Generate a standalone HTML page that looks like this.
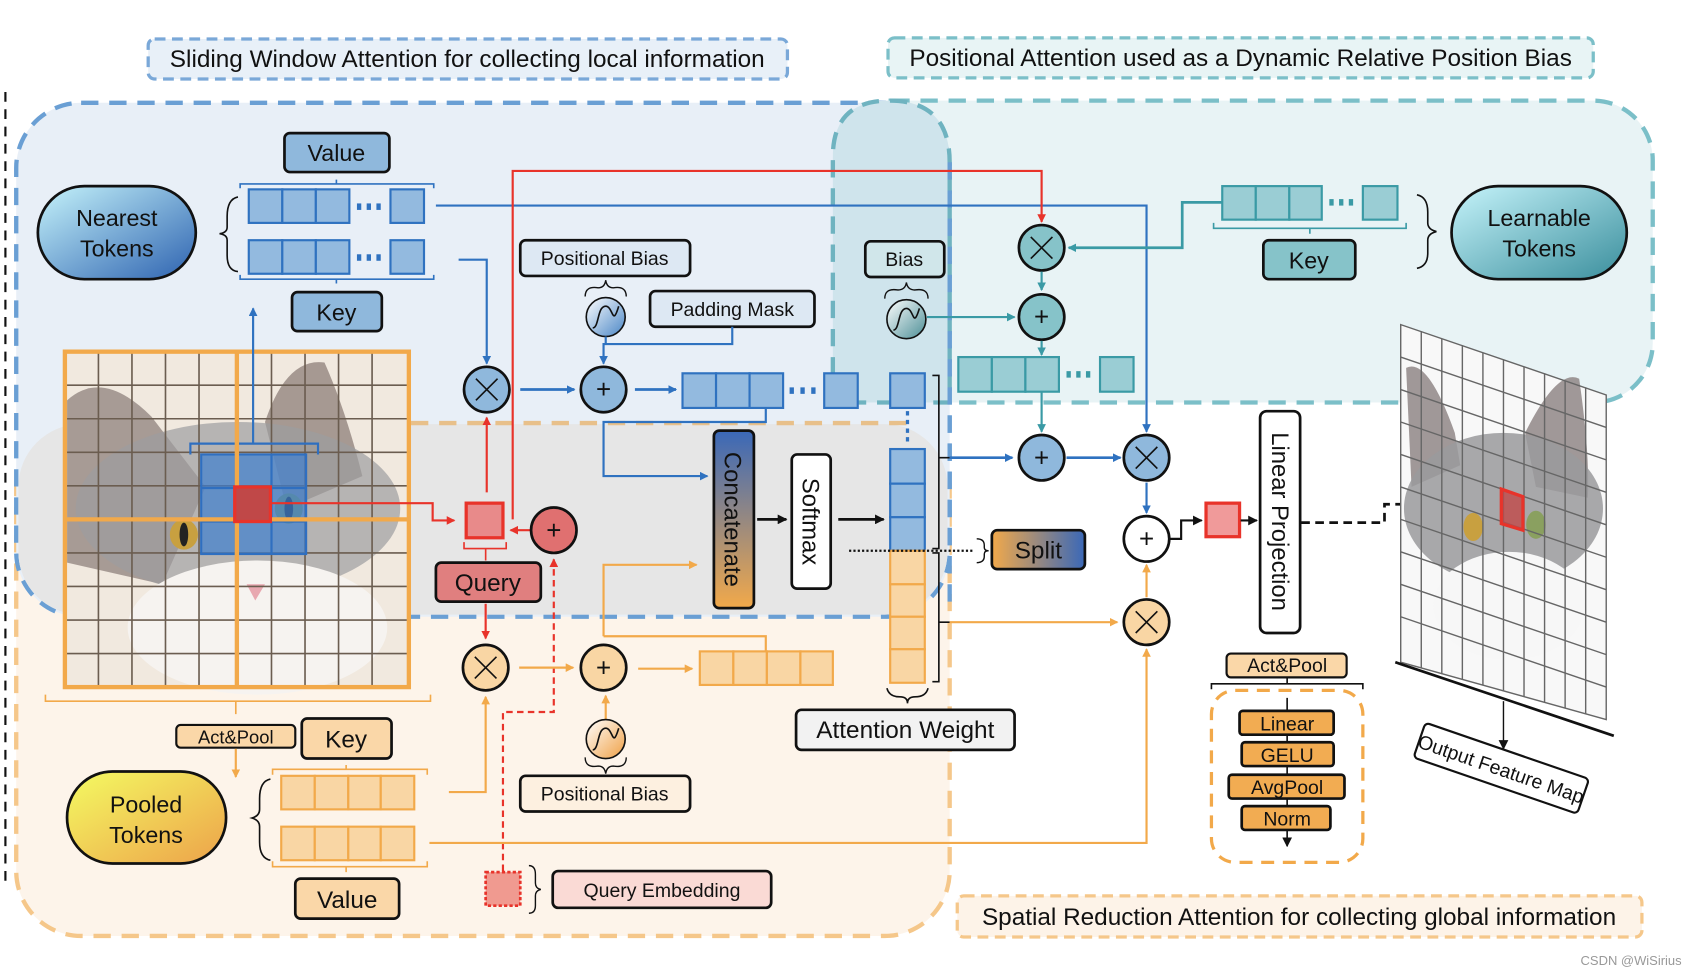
<!DOCTYPE html>
<html><head><meta charset="utf-8"><style>
html,body{margin:0;padding:0;background:#fff;}
svg{display:block;}
text{font-family:"Liberation Sans",Arial,sans-serif;fill:#111;}
</style></head><body>
<svg width="1696" height="976" viewBox="0 0 1568 902" preserveAspectRatio="none" xmlns="http://www.w3.org/2000/svg">
<defs>
<marker id="ab" markerWidth="8" markerHeight="8" refX="7" refY="4" orient="auto" markerUnits="userSpaceOnUse"><path d="M0,0 L8,4 L0,8 z" fill="#2f72c0"/></marker>
<marker id="ar" markerWidth="8" markerHeight="8" refX="7" refY="4" orient="auto" markerUnits="userSpaceOnUse"><path d="M0,0 L8,4 L0,8 z" fill="#e8332a"/></marker>
<marker id="ao" markerWidth="8" markerHeight="8" refX="7" refY="4" orient="auto" markerUnits="userSpaceOnUse"><path d="M0,0 L8,4 L0,8 z" fill="#f2a94a"/></marker>
<marker id="at" markerWidth="8" markerHeight="8" refX="7" refY="4" orient="auto" markerUnits="userSpaceOnUse"><path d="M0,0 L8,4 L0,8 z" fill="#3a9aa5"/></marker>
<marker id="ak" markerWidth="9" markerHeight="9" refX="8" refY="4.5" orient="auto" markerUnits="userSpaceOnUse"><path d="M0,0 L9,4.5 L0,9 z" fill="#111"/></marker>
<linearGradient id="gNear" x1="0" y1="0" x2="1" y2="1"><stop offset="0" stop-color="#c6f4fb"/><stop offset="1" stop-color="#2d62b0"/></linearGradient>
<linearGradient id="gLearn" x1="0" y1="0" x2="1" y2="1"><stop offset="0" stop-color="#c6f4fb"/><stop offset="1" stop-color="#3a8e9c"/></linearGradient>
<linearGradient id="gPool" x1="0" y1="0" x2="1" y2="1"><stop offset="0" stop-color="#f4fb62"/><stop offset="1" stop-color="#eda24a"/></linearGradient>
<linearGradient id="gConc" x1="0" y1="0" x2="0" y2="1"><stop offset="0" stop-color="#3a68b8"/><stop offset="1" stop-color="#f2a94a"/></linearGradient>
<linearGradient id="gSplit" x1="0" y1="0" x2="1" y2="0"><stop offset="0" stop-color="#f2a94a"/><stop offset="1" stop-color="#3a68b8"/></linearGradient>
<linearGradient id="gSigB" x1="0" y1="0" x2="1" y2="1"><stop offset="0" stop-color="#fff"/><stop offset="1" stop-color="#4a86c6"/></linearGradient>
<linearGradient id="gSigT" x1="0" y1="0" x2="1" y2="1"><stop offset="0" stop-color="#fff"/><stop offset="1" stop-color="#4c8e96"/></linearGradient>
<linearGradient id="gSigO" x1="0" y1="0" x2="1" y2="1"><stop offset="0" stop-color="#fff"/><stop offset="1" stop-color="#f0a045"/></linearGradient>
</defs>

<line x1="5" y1="85" x2="5" y2="815" stroke="#111" stroke-width="2" stroke-dasharray="9,7"/>

<rect x="15" y="390" width="863" height="475" rx="60" fill="#fdf4ea" stroke="#f5c78a" stroke-width="4" stroke-dasharray="16,10"/>
<rect x="770" y="93" width="758" height="279" rx="55" fill="#e8f3f5" stroke="#7bbfc8" stroke-width="4" stroke-dasharray="16,10"/>
<rect x="15" y="95" width="863" height="475" rx="60" fill="#e8eff7" stroke="#6a9fd4" stroke-width="4" stroke-dasharray="16,10"/>
<rect x="17" y="392" width="859" height="176" rx="58" fill="#e6e6e6"/>
<line x1="380" y1="391" x2="840" y2="391" stroke="#e8c08a" stroke-width="4" stroke-dasharray="16,10"/>
<path d="M770,372 L770,145 Q770,93 822,93 Q878,93 878,150 L878,372 z" fill="#cfe4ec" stroke="#6fb3c0" stroke-width="4" stroke-dasharray="16,10"/>
<line x1="878" y1="150" x2="878" y2="560" stroke="#6a9fd4" stroke-width="4" stroke-dasharray="16,10"/>

<rect x="137" y="36" width="591" height="37" rx="6" fill="#e8f0f8" stroke="#7aa8d8" stroke-width="3" stroke-dasharray="10,6"/>
<text x="432" y="62" font-size="22.5" text-anchor="middle">Sliding Window Attention for collecting local information</text>
<rect x="821" y="35" width="652" height="37" rx="6" fill="#e8f4f5" stroke="#7bbfc8" stroke-width="3" stroke-dasharray="10,6"/>
<text x="1147" y="61" font-size="22.5" text-anchor="middle">Positional Attention used as a Dynamic Relative Position Bias</text>
<rect x="885" y="828" width="633" height="38" rx="6" fill="#fdf3e8" stroke="#f5c78a" stroke-width="3" stroke-dasharray="10,6"/>
<text x="1201" y="855" font-size="22.5" text-anchor="middle">Spatial Reduction Attention for collecting global information</text>

<rect x="35" y="172" width="146" height="86" rx="43" fill="url(#gNear)" stroke="#111" stroke-width="2.5"/>
<text x="108" y="209" font-size="21.5" text-anchor="middle">Nearest</text>
<text x="108" y="237" font-size="21.5" text-anchor="middle">Tokens</text>
<path d="M220,182 Q210,184 210,200 L210,210 Q210,215 203,216 Q210,217 210,222 L210,236 Q210,250 220,251" fill="none" stroke="#111" stroke-width="1.5"/>

<rect x="263" y="123" width="97" height="36" rx="5" fill="#8fb8dc" stroke="#111" stroke-width="2.5"/>
<text x="311" y="149" font-size="21.5" text-anchor="middle">Value</text>
<path d="M222,174 L222,170 L401,170 L401,174 M311,170 L311,166" fill="none" stroke="#2f72c0" stroke-width="1.5"/>
<g fill="#93badf" stroke="#2f72c0" stroke-width="2">
<rect x="230" y="175" width="31" height="31"/><rect x="261" y="175" width="31" height="31"/><rect x="292" y="175" width="31" height="31"/><rect x="361" y="175" width="31" height="31"/>
<rect x="230" y="222" width="31" height="31"/><rect x="261" y="222" width="31" height="31"/><rect x="292" y="222" width="31" height="31"/><rect x="361" y="222" width="31" height="31"/>
</g>
<g fill="#2f72c0"><rect x="330" y="188" width="4" height="6"/><rect x="339" y="188" width="4" height="6"/><rect x="348" y="188" width="4" height="6"/><rect x="330" y="235" width="4" height="6"/><rect x="339" y="235" width="4" height="6"/><rect x="348" y="235" width="4" height="6"/></g>
<path d="M222,254 L222,258 L401,258 L401,254 M311,258 L311,262" fill="none" stroke="#2f72c0" stroke-width="1.5"/>
<rect x="270" y="270" width="83" height="36" rx="5" fill="#8fb8dc" stroke="#111" stroke-width="2.5"/>
<text x="311" y="296" font-size="21.5" text-anchor="middle">Key</text>

<!-- cat image -->
<rect x="60" y="325" width="318" height="310" fill="#f1e9df"/>
<path d="M62,370 Q95,340 140,385 L190,450 L150,540 L62,520 z" fill="#8d807c" opacity="0.75"/>
<path d="M245,390 Q265,330 300,335 Q320,380 335,440 L265,470 z" fill="#8c7e78" opacity="0.75"/>
<ellipse cx="220" cy="470" rx="150" ry="80" fill="#9c9c9f" opacity="0.7"/>
<ellipse cx="238" cy="580" rx="120" ry="62" fill="#f6f3f0"/>
<ellipse cx="170" cy="494" rx="13" ry="14" fill="#c8a040"/><ellipse cx="170" cy="494" rx="4" ry="11" fill="#222"/>
<ellipse cx="267" cy="470" rx="13" ry="14" fill="#8aa060"/><ellipse cx="267" cy="470" rx="4" ry="11" fill="#222"/>
<path d="M228,540 L245,540 L236,555 z" fill="#e8a8b0"/>
<g stroke="#6b5d50" stroke-width="1.5" fill="none">
<path d="M91,325V635M122,325V635M153,325V635M184,325V635M251,325V635M282,325V635M313,325V635M344,325V635"/>
<path d="M60,356H378M60,387H378M60,418H378M60,449H378M60,511H378M60,542H378M60,573H378M60,604H378"/>
</g>
<rect x="186" y="420" width="97" height="92" fill="#3f7fcf" opacity="0.7"/>
<g stroke="#2f6fc0" stroke-width="2" fill="none"><rect x="186" y="420" width="97" height="92"/><path d="M218,420V512M251,420V512M186,451H283M186,482H283"/><path d="M176,420 V410 H294 V420"/></g>
<g stroke="#f2a94a" stroke-width="4" fill="none"><rect x="60" y="325" width="318" height="310"/><path d="M219,325V635M60,480H378"/></g>
<rect x="217" y="450" width="33" height="32" fill="#c04848" stroke="#e8332a" stroke-width="3"/>
<path d="M42,642 L42,648 L398,648 L398,642 M218,648 L218,660" fill="none" stroke="#f2a94a" stroke-width="1.5"/>

<line x1="234" y1="410" x2="234" y2="285" stroke="#2f72c0" stroke-width="2" marker-end="url(#ab)"/>
<polyline points="403,190 1060,190 1060,399" fill="none" stroke="#2f72c0" stroke-width="2" marker-end="url(#ab)"/>
<polyline points="424,240 450,240 450,336" fill="none" stroke="#2f72c0" stroke-width="2" marker-end="url(#ab)"/>

<polyline points="474,480 474,158 963,158 963,205" fill="none" stroke="#e8332a" stroke-width="2" marker-end="url(#ar)"/>
<polyline points="250,465 400,465 400,481 420,481" fill="none" stroke="#e8332a" stroke-width="2" marker-end="url(#ar)"/>
<line x1="450" y1="455" x2="450" y2="386" stroke="#e8332a" stroke-width="2" marker-end="url(#ar)"/>
<line x1="491" y1="490" x2="472" y2="490" stroke="#e8332a" stroke-width="2" marker-end="url(#ar)"/>
<polyline points="465,805 465,658 512,658 512,517" fill="none" stroke="#e8332a" stroke-width="2" stroke-dasharray="6,4" marker-end="url(#ar)"/>
<line x1="449" y1="558" x2="449" y2="590" stroke="#e8332a" stroke-width="2" marker-end="url(#ar)"/>

<circle cx="450" cy="360" r="21" fill="#8fb8dc" stroke="#111" stroke-width="2.5"/>
<path d="M440,350 L460,370 M460,350 L440,370" stroke="#111" stroke-width="1.5"/>
<line x1="481" y1="360" x2="531" y2="360" stroke="#2f72c0" stroke-width="2.5" marker-end="url(#ab)"/>
<circle cx="558" cy="360" r="21" fill="#8fb8dc" stroke="#111" stroke-width="2.5"/>
<text x="558" y="368" font-size="24" text-anchor="middle">+</text>
<line x1="587" y1="360" x2="625" y2="360" stroke="#2f72c0" stroke-width="2.5" marker-end="url(#ab)"/>
<g fill="#93badf" stroke="#2f72c0" stroke-width="2"><rect x="631" y="345" width="31" height="32"/><rect x="662" y="345" width="31" height="32"/><rect x="693" y="345" width="31" height="32"/><rect x="762" y="345" width="31" height="32"/></g>
<g fill="#2f72c0"><rect x="730" y="358" width="4" height="6"/><rect x="740" y="358" width="4" height="6"/><rect x="750" y="358" width="4" height="6"/></g>

<rect x="481" y="222" width="157" height="33" rx="5" fill="#dde8f3" stroke="#111" stroke-width="2.5"/>
<text x="559" y="245" font-size="18" text-anchor="middle">Positional Bias</text>
<path d="M541,274 Q541,264 553,266 Q559,266 560,259 Q561,266 567,266 Q579,264 579,274" fill="none" stroke="#111" stroke-width="1.3"/>
<circle cx="560" cy="293" r="18" fill="url(#gSigB)" stroke="#111" stroke-width="1.5"/>
<path d="M548,303 C554,303 552,283 560,283 C567,283 566,303 572,283" fill="none" stroke="#111" stroke-width="1.5"/>
<rect x="601" y="269" width="152" height="33" rx="5" fill="#dde8f3" stroke="#111" stroke-width="2.5"/>
<text x="677" y="292" font-size="18" text-anchor="middle">Padding Mask</text>
<polyline points="677,302 677,318 558,318 558,336" fill="none" stroke="#2f72c0" stroke-width="2" marker-end="url(#ab)"/>
<line x1="560" y1="311" x2="560" y2="318" stroke="#2f72c0" stroke-width="2"/>
<polyline points="708,377 708,390 558,390 558,440 654,440" fill="none" stroke="#2f72c0" stroke-width="2" marker-end="url(#ab)"/>

<rect x="660" y="398" width="37" height="164" rx="5" fill="url(#gConc)" stroke="#111" stroke-width="2.5"/>
<text transform="translate(670,480) rotate(90)" font-size="22" text-anchor="middle">Concatenate</text>
<line x1="700" y1="480" x2="727" y2="480" stroke="#111" stroke-width="2.5" marker-end="url(#ak)"/>
<rect x="732" y="420" width="36" height="124" rx="5" fill="#fff" stroke="#111" stroke-width="2.5"/>
<text transform="translate(742,482) rotate(90)" font-size="22" text-anchor="middle">Softmax</text>
<line x1="775" y1="480" x2="817" y2="480" stroke="#111" stroke-width="2.5" marker-end="url(#ak)"/>
<polyline points="558,588 558,522 644,522" fill="none" stroke="#f2a94a" stroke-width="2" marker-end="url(#ao)"/>
<polyline points="708,602 708,588 558,588" fill="none" stroke="#f2a94a" stroke-width="2"/>

<g fill="#93badf" stroke="#2f72c0" stroke-width="2"><rect x="823" y="345" width="32" height="32"/><rect x="823" y="415" width="32" height="32"/><rect x="823" y="447" width="32" height="31"/><rect x="823" y="478" width="32" height="31"/></g>
<line x1="839" y1="380" x2="839" y2="410" stroke="#2f72c0" stroke-width="3" stroke-dasharray="4,4"/>
<g fill="#f9d6a4" stroke="#f2a94a" stroke-width="2"><rect x="823" y="509" width="32" height="31"/><rect x="823" y="540" width="32" height="30"/><rect x="823" y="570" width="32" height="30"/><rect x="823" y="600" width="32" height="31"/></g>
<path d="M862,347 H868 V507 H862 M868,423 H878 M862,511 H868 V630 H862 M868,575 H878" fill="none" stroke="#111" stroke-width="1.5"/>
<path d="M820,636 Q822,644 832,644 Q839,644 839,650 Q839,644 846,644 Q856,644 858,636" fill="none" stroke="#111" stroke-width="1.5"/>
<rect x="736" y="656" width="202" height="37" rx="5" fill="#f2f2f2" stroke="#111" stroke-width="2.5"/>
<text x="837" y="682" font-size="22.5" text-anchor="middle">Attention Weight</text>
<line x1="785" y1="509" x2="900" y2="509" stroke="#111" stroke-width="2" stroke-dasharray="2,2"/>
<path d="M903,498 Q910,498 910,504 L910,506 Q910,509 914,509 Q910,509 910,512 L910,514 Q910,520 903,520" fill="none" stroke="#111" stroke-width="1.3"/>
<rect x="917" y="490" width="86" height="36" rx="5" fill="url(#gSplit)" stroke="#111" stroke-width="2.5"/>
<text x="960" y="516" font-size="22.5" text-anchor="middle">Split</text>
<line x1="878" y1="423" x2="936" y2="423" stroke="#2f72c0" stroke-width="2.5" marker-end="url(#ab)"/>
<line x1="878" y1="575" x2="1033" y2="575" stroke="#f2a94a" stroke-width="2" marker-end="url(#ao)"/>

<rect x="431" y="465" width="34" height="32" fill="#e88a8a" stroke="#e8332a" stroke-width="3"/>
<path d="M429,501 V507 H468 V501 M449,507 V518" fill="none" stroke="#e8332a" stroke-width="1.5"/>
<circle cx="512" cy="490" r="21" fill="#e07070" stroke="#111" stroke-width="2.5"/>
<text x="512" y="498" font-size="24" text-anchor="middle">+</text>
<rect x="403" y="520" width="97" height="36" rx="5" fill="#e07f7f" stroke="#111" stroke-width="2.5"/>
<text x="451" y="546" font-size="22.5" text-anchor="middle">Query</text>

<circle cx="449" cy="617" r="21" fill="#f9d6a4" stroke="#111" stroke-width="2.5"/>
<path d="M439,607 L459,627 M459,607 L439,627" stroke="#111" stroke-width="1.5"/>
<line x1="480" y1="617" x2="530" y2="617" stroke="#f2a94a" stroke-width="2" marker-end="url(#ao)"/>
<circle cx="558" cy="617" r="21" fill="#f9d6a4" stroke="#111" stroke-width="2.5"/>
<text x="558" y="625" font-size="24" text-anchor="middle">+</text>
<line x1="590" y1="618" x2="640" y2="618" stroke="#f2a94a" stroke-width="2" marker-end="url(#ao)"/>
<g fill="#f9d6a4" stroke="#f2a94a" stroke-width="2"><rect x="647" y="602" width="31" height="31"/><rect x="678" y="602" width="31" height="31"/><rect x="709" y="602" width="31" height="31"/><rect x="740" y="602" width="30" height="31"/></g>
<line x1="560" y1="665" x2="560" y2="643" stroke="#f2a94a" stroke-width="2" marker-end="url(#ao)"/>
<circle cx="560" cy="683" r="18" fill="url(#gSigO)" stroke="#111" stroke-width="1.5"/>
<path d="M548,693 C554,693 552,673 560,673 C567,673 566,693 572,673" fill="none" stroke="#111" stroke-width="1.5"/>
<path d="M541,700 Q541,710 553,708 Q559,708 560,715 Q561,708 567,708 Q579,710 579,700" fill="none" stroke="#111" stroke-width="1.3"/>
<rect x="481" y="717" width="157" height="33" rx="5" fill="#fdf0e0" stroke="#111" stroke-width="2.5"/>
<text x="559" y="740" font-size="18" text-anchor="middle">Positional Bias</text>

<rect x="163" y="670" width="110" height="21" rx="4" fill="#fad7a8" stroke="#111" stroke-width="2"/>
<text x="218" y="687" font-size="17" text-anchor="middle">Act&amp;Pool</text>
<rect x="279" y="664" width="83" height="37" rx="5" fill="#fad7a8" stroke="#111" stroke-width="2.5"/>
<text x="320" y="691" font-size="22.5" text-anchor="middle">Key</text>
<line x1="218" y1="692" x2="218" y2="718" stroke="#f2a94a" stroke-width="2" marker-end="url(#ao)"/>
<rect x="62" y="713" width="147" height="85" rx="42" fill="url(#gPool)" stroke="#111" stroke-width="2.5"/>
<text x="135" y="751" font-size="21.5" text-anchor="middle">Pooled</text>
<text x="135" y="779" font-size="21.5" text-anchor="middle">Tokens</text>
<path d="M250,720 Q240,722 240,738 L240,748 Q240,754 233,756 Q240,758 240,764 L240,778 Q240,793 250,795" fill="none" stroke="#111" stroke-width="1.5"/>
<path d="M252,716 V711 H395 V716 M320,711 V707" fill="none" stroke="#f2a94a" stroke-width="1.5"/>
<g fill="#f9d6a4" stroke="#f2a94a" stroke-width="2"><rect x="260" y="717" width="31" height="31"/><rect x="291" y="717" width="31" height="31"/><rect x="322" y="717" width="30" height="31"/><rect x="352" y="717" width="31" height="31"/>
<rect x="260" y="764" width="31" height="31"/><rect x="291" y="764" width="31" height="31"/><rect x="322" y="764" width="30" height="31"/><rect x="352" y="764" width="31" height="31"/></g>
<path d="M252,796 V801 H395 V796 M320,801 V806" fill="none" stroke="#f2a94a" stroke-width="1.5"/>
<rect x="273" y="812" width="96" height="37" rx="5" fill="#fad7a8" stroke="#111" stroke-width="2.5"/>
<text x="321" y="839" font-size="22.5" text-anchor="middle">Value</text>
<polyline points="415,732 449,732 449,644" fill="none" stroke="#f2a94a" stroke-width="2" marker-end="url(#ao)"/>
<polyline points="397,779 1060,779 1060,600" fill="none" stroke="#f2a94a" stroke-width="2" marker-end="url(#ao)"/>

<rect x="449" y="806" width="32" height="31" fill="#f09a90" stroke="#e8332a" stroke-width="2.5" stroke-dasharray="3,2"/>
<path d="M489,800 Q495,800 495,808 L495,816 Q495,821 500,822 Q495,823 495,828 L495,837 Q495,844 489,844" fill="none" stroke="#111" stroke-width="1.3"/>
<rect x="511" y="805" width="202" height="34" rx="5" fill="#fadad5" stroke="#111" stroke-width="2.5"/>
<text x="612" y="829" font-size="18" text-anchor="middle">Query Embedding</text>

<circle cx="963" cy="229" r="21" fill="#86c3c9" stroke="#111" stroke-width="2.5"/>
<path d="M953,219 L973,239 M973,219 L953,239" stroke="#111" stroke-width="1.5"/>
<line x1="963" y1="251" x2="963" y2="268" stroke="#3a9aa5" stroke-width="2" marker-end="url(#at)"/>
<circle cx="963" cy="293" r="21" fill="#86c3c9" stroke="#111" stroke-width="2.5"/>
<text x="963" y="301" font-size="24" text-anchor="middle">+</text>
<line x1="963" y1="315" x2="963" y2="328" stroke="#3a9aa5" stroke-width="2" marker-end="url(#at)"/>
<g fill="#9acdd4" stroke="#3a9aa5" stroke-width="2"><rect x="886" y="330" width="31" height="32"/><rect x="917" y="330" width="31" height="32"/><rect x="948" y="330" width="31" height="32"/><rect x="1017" y="330" width="31" height="32"/></g>
<g fill="#3a9aa5"><rect x="986" y="343" width="4" height="6"/><rect x="995" y="343" width="4" height="6"/><rect x="1004" y="343" width="4" height="6"/></g>
<line x1="963" y1="362" x2="963" y2="399" stroke="#3a9aa5" stroke-width="2" marker-end="url(#at)"/>
<rect x="800" y="223" width="73" height="33" rx="5" fill="#d0e6ea" stroke="#111" stroke-width="2.5"/>
<text x="836" y="246" font-size="18" text-anchor="middle">Bias</text>
<path d="M818,276 Q818,266 830,268 Q837,268 838,261 Q839,268 846,268 Q858,266 858,276" fill="none" stroke="#111" stroke-width="1.3"/>
<circle cx="838" cy="295" r="18" fill="url(#gSigT)" stroke="#111" stroke-width="1.5"/>
<path d="M826,305 C832,305 830,285 838,285 C845,285 844,305 850,285" fill="none" stroke="#111" stroke-width="1.5"/>
<line x1="857" y1="293" x2="938" y2="293" stroke="#3a9aa5" stroke-width="2" marker-end="url(#at)"/>
<g fill="#9acdd4" stroke="#3a9aa5" stroke-width="2"><rect x="1130" y="172" width="31" height="31"/><rect x="1161" y="172" width="31" height="31"/><rect x="1192" y="172" width="30" height="31"/><rect x="1260" y="172" width="32" height="31"/></g>
<g fill="#3a9aa5"><rect x="1229" y="184" width="4" height="6"/><rect x="1238" y="184" width="4" height="6"/><rect x="1247" y="184" width="4" height="6"/></g>
<polyline points="1130,187 1093,187 1093,229 988,229" fill="none" stroke="#3a9aa5" stroke-width="2.5" marker-end="url(#at)"/>
<path d="M1122,206 V211 H1300 V206 M1211,211 V216" fill="none" stroke="#3a9aa5" stroke-width="1.5"/>
<rect x="1168" y="222" width="85" height="36" rx="5" fill="#86c3c9" stroke="#111" stroke-width="2.5"/>
<text x="1210" y="248" font-size="21.5" text-anchor="middle">Key</text>
<path d="M1310,180 Q1320,182 1320,196 L1320,206 Q1320,212 1328,214 Q1320,216 1320,222 L1320,234 Q1320,246 1310,248" fill="none" stroke="#111" stroke-width="1.5"/>
<rect x="1342" y="172" width="162" height="86" rx="43" fill="url(#gLearn)" stroke="#111" stroke-width="2.5"/>
<text x="1423" y="209" font-size="21.5" text-anchor="middle">Learnable</text>
<text x="1423" y="237" font-size="21.5" text-anchor="middle">Tokens</text>

<circle cx="963" cy="423" r="21" fill="#8fb8dc" stroke="#111" stroke-width="2.5"/>
<text x="963" y="431" font-size="24" text-anchor="middle">+</text>
<line x1="986" y1="423" x2="1036" y2="423" stroke="#2f72c0" stroke-width="2.5" marker-end="url(#ab)"/>
<circle cx="1060" cy="423" r="21" fill="#8fb8dc" stroke="#111" stroke-width="2.5"/>
<path d="M1050,413 L1070,433 M1070,413 L1050,433" stroke="#111" stroke-width="1.5"/>
<line x1="1060" y1="446" x2="1060" y2="474" stroke="#2f72c0" stroke-width="2" marker-end="url(#ab)"/>
<circle cx="1060" cy="498" r="21" fill="#fff" stroke="#111" stroke-width="2.5"/>
<text x="1060" y="506" font-size="24" text-anchor="middle">+</text>
<line x1="1060" y1="552" x2="1060" y2="522" stroke="#f2a94a" stroke-width="2" marker-end="url(#ao)"/>
<circle cx="1060" cy="575" r="21" fill="#f9d6a4" stroke="#111" stroke-width="2.5"/>
<path d="M1050,565 L1070,585 M1070,565 L1050,585" stroke="#111" stroke-width="1.5"/>
<polyline points="1082,498 1092,498 1092,481 1111,481" fill="none" stroke="#111" stroke-width="2" marker-end="url(#ak)"/>
<rect x="1115" y="465" width="31" height="31" fill="#f09a9a" stroke="#e8332a" stroke-width="3"/>
<line x1="1147" y1="481" x2="1162" y2="481" stroke="#111" stroke-width="2" marker-end="url(#ak)"/>
<rect x="1165" y="380" width="37" height="205" rx="6" fill="#fff" stroke="#111" stroke-width="2.5"/>
<text transform="translate(1176,482) rotate(90)" font-size="22" text-anchor="middle">Linear Projection</text>
<polyline points="1203,483 1280,483 1280,466 1378,466" fill="none" stroke="#111" stroke-width="2.5" stroke-dasharray="8,5" marker-end="url(#ak)"/>

<rect x="1134" y="604" width="111" height="22" rx="4" fill="#fad7a8" stroke="#111" stroke-width="2"/>
<text x="1190" y="621" font-size="18" text-anchor="middle">Act&amp;Pool</text>
<path d="M1120,637 V632 H1260 V637 M1190,632 V627" fill="none" stroke="#111" stroke-width="1.5"/>
<rect x="1120" y="638" width="140" height="159" rx="22" fill="none" stroke="#f2a94a" stroke-width="3" stroke-dasharray="12,8"/>
<line x1="1190" y1="645" x2="1190" y2="782" stroke="#111" stroke-width="1.5" marker-end="url(#ak)"/>
<g fill="#f2ac52" stroke="#111" stroke-width="2.5">
<rect x="1146" y="657" width="87" height="22" rx="3"/><rect x="1148" y="686" width="85" height="22" rx="3"/><rect x="1136" y="716" width="107" height="22" rx="3"/><rect x="1148" y="745" width="82" height="22" rx="3"/></g>
<text x="1190" y="675" font-size="18" text-anchor="middle">Linear</text>
<text x="1190" y="704" font-size="18" text-anchor="middle">GELU</text>
<text x="1190" y="734" font-size="18" text-anchor="middle">AvgPool</text>
<text x="1190" y="763" font-size="18" text-anchor="middle">Norm</text>

<!-- output feature map -->
<polygon points="1295,300 1485,365 1485,665 1295,612" fill="#f8f8f8"/>
<path d="M1300,340 Q1320,330 1345,400 L1350,430 L1305,450 z" fill="#8a7f80" opacity="0.8"/>
<path d="M1410,400 Q1440,340 1460,350 Q1470,420 1468,460 L1420,450 z" fill="#8a7f80" opacity="0.8"/>
<ellipse cx="1390" cy="470" rx="92" ry="70" fill="#9a9a9c" opacity="0.85"/>
<ellipse cx="1395" cy="560" rx="70" ry="50" fill="#f7f7f7"/>
<ellipse cx="1362" cy="487" rx="9" ry="13" fill="#c8a040"/><ellipse cx="1420" cy="485" rx="9" ry="13" fill="#8aa060"/>
<g stroke="#666" stroke-width="1.3" fill="none">
<path d="M1314,306V617M1333,313V623M1352,319V628M1371,326V633M1390,332V638M1409,339V644M1428,345V649M1447,352V654M1466,358V660"/>
<path d="M1295,330L1485,395M1295,360L1485,425M1295,390L1485,455M1295,420L1485,485M1295,450L1485,515M1295,480L1485,545M1295,510L1485,575M1295,540L1485,605M1295,570L1485,635"/>
<polygon points="1295,300 1485,365 1485,665 1295,612"/>
</g>
<polygon points="1388,452 1408,459 1408,490 1388,484" fill="#c04848" fill-opacity="0.8" stroke="#e8332a" stroke-width="3"/>
<line x1="1290" y1="612" x2="1492" y2="680" stroke="#111" stroke-width="2.5"/>
<line x1="1390" y1="648" x2="1390" y2="692" stroke="#111" stroke-width="1.3" marker-end="url(#ak)"/>
<g transform="translate(1388,710) rotate(19)">
<rect x="-80" y="-17" width="160" height="34" rx="4" fill="#fff" stroke="#111" stroke-width="2"/>
<text x="0" y="7" font-size="18" text-anchor="middle">Output Feature Map</text>
</g>

<text x="1508" y="892" font-size="12" text-anchor="middle" style="fill:#999">CSDN @WiSirius</text>
</svg>
</body></html>
